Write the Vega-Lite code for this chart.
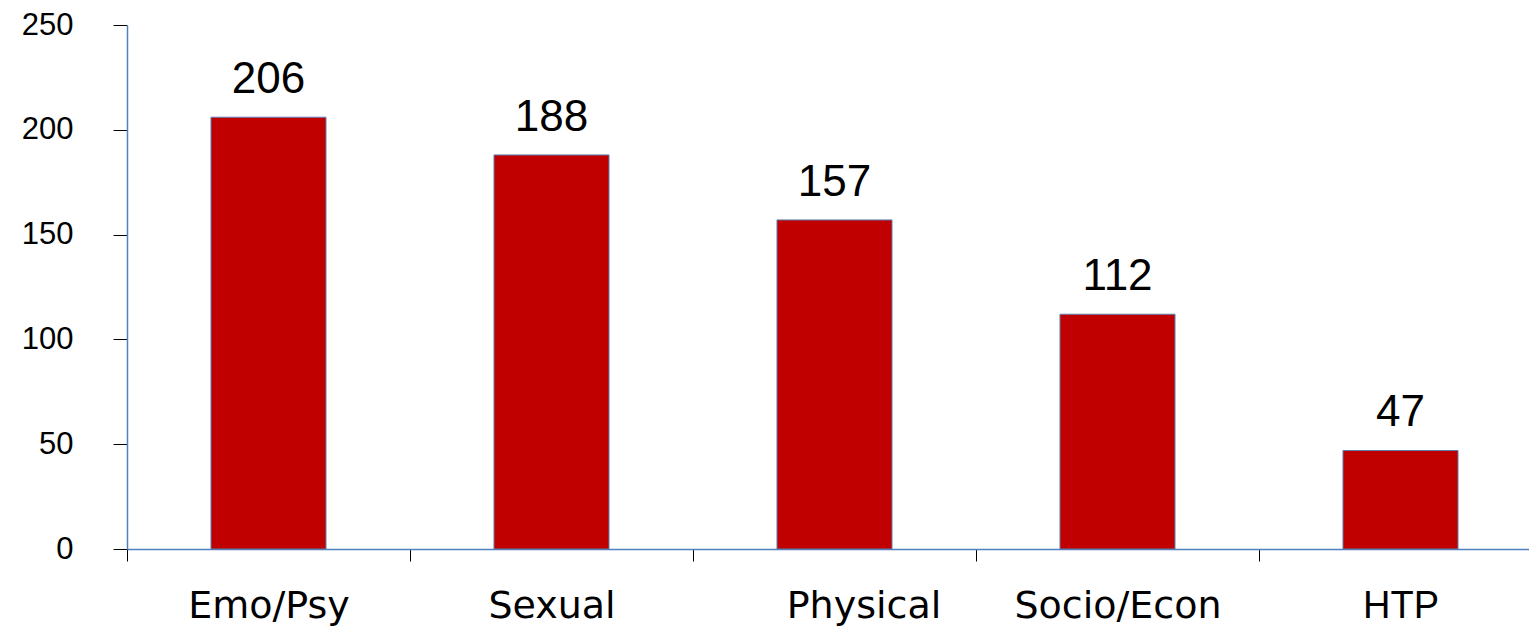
{
  "$schema": "https://vega.github.io/schema/vega-lite/v6.json",
  "autosize": {"type": "none"},
  "padding": {"left": 127, "top": 25, "right": 0, "bottom": 84},
  "width": 1402,
  "height": 524,
  "background": "white",
  "config": {"view": {"stroke": null}},
  "data": {"values": [
    {"category": "Emo/Psy", "value": 206},
    {"category": "Sexual", "value": 188},
    {"category": "Physical", "value": 157},
    {"category": "Socio/Econ", "value": 112},
    {"category": "HTP", "value": 47}
  ]},
  "encoding": {
    "x": {
      "field": "category", "type": "nominal", "sort": null,
      "scale": {"range": [0, 1415], "paddingInner": 0, "paddingOuter": 0},
      "axis": {
        "title": null, "labelAngle": 0, "domainColor": "#4F81BD", "domainWidth": 1.5,
        "tickColor": "#000000", "tickSize": 12, "tickWidth": 1, "tickBand": "extent",
        "labelFont": {"condition": {"test": "datum.value == 'HTP'", "value": "Liberation Sans"}, "value": "DejaVu Sans"},
        "labelFontSize": {"condition": {"test": "datum.value == 'HTP'", "value": 38}, "value": 38},
        "labelOffset": {"condition": {"test": "datum.value == 'Physical'", "value": 29}, "value": 0},
        "labelColor": "#000000", "labelBaseline": "alphabetic", "labelPadding": 56, "labelLimit": 0
      }
    },
    "y": {
      "field": "value", "type": "quantitative",
      "scale": {"domain": [0, 250], "nice": false},
      "axis": {
        "title": null, "values": [0, 50, 100, 150, 200, 250], "grid": false,
        "domainColor": "#4F81BD", "domainWidth": 1.5,
        "tickColor": "#000000", "tickSize": 14, "tickWidth": 1,
        "labelFont": "Liberation Sans", "labelFontSize": 31, "labelColor": "#000000",
        "labelPadding": 40
      }
    }
  },
  "layer": [
    {"mark": {"type": "bar", "color": "#C00000", "stroke": "#5B7FB0", "strokeWidth": 1, "width": {"band": 0.4064}}},
    {"mark": {"type": "text", "font": "Liberation Sans", "fontSize": 44, "color": "#000000", "baseline": "alphabetic", "dy": -24},
     "encoding": {"text": {"field": "value", "type": "quantitative"}}}
  ]
}
